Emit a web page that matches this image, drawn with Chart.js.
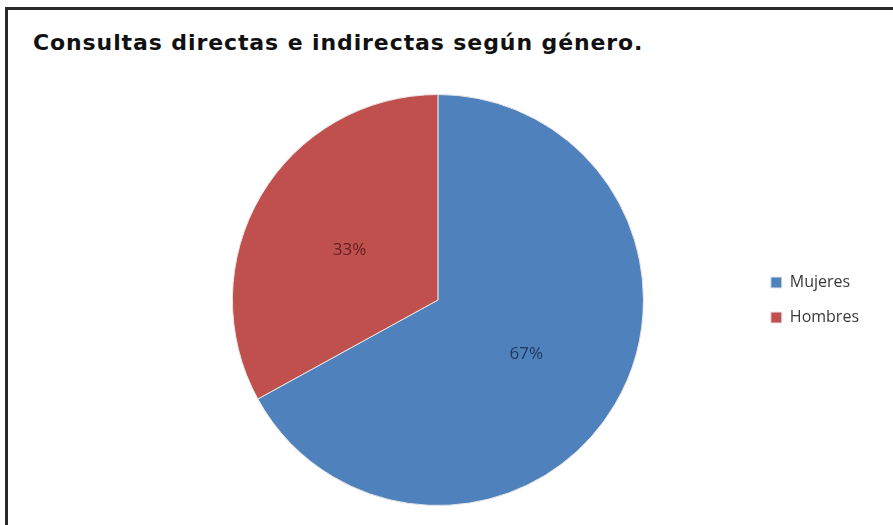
<!DOCTYPE html>
<html lang="es">
<head>
<meta charset="utf-8">
<title>Consultas según género</title>
<script src="https://cdn.jsdelivr.net/npm/chart.js@4.4.1/dist/chart.umd.min.js"></script>
<style>
  html, body { margin: 0; padding: 0; background: #fff; }
  #wrap { position: relative; width: 893px; height: 525px; overflow: hidden; }
  #marco {
    position: absolute; left: 5px; top: 7px; width: 900px; height: 530px;
    border-top: 3px solid #2a2a2a; border-left: 3px solid #2a2a2a;
  }
  #titulo {
    position: absolute; left: 33px; top: 30px;
    font: bold 22px "DejaVu Sans", sans-serif; letter-spacing: 0.9px;
    color: #111; white-space: nowrap;
  }
  canvas { position: absolute; left: 0; top: 0; }
</style>
</head>
<body>
<div id="wrap">
  <div id="marco"></div>
  <div id="titulo">Consultas directas e indirectas según género.</div>
  <canvas id="grafico" width="893" height="525"></canvas>
</div>
<script>
const generos = ["Mujeres", "Hombres"];
const porcentajes = [67, 33];

const colorSector = ["#4f81bd", "#c0504d"];
const colorEtiqueta = ["#1f3a60", "#5e1f1d"];

// porcentaje escrito en el centro de cada sector
const etiquetasSector = {
  id: "etiquetasSector",
  afterDatasetsDraw(chart) {
    const { ctx } = chart;
    const meta = chart.getDatasetMeta(0);
    ctx.save();
    ctx.font = "17px 'Open Sans', sans-serif";
    ctx.textAlign = "center";
    ctx.textBaseline = "middle";
    meta.data.forEach((arc, i) => {
      const pos = arc.tooltipPosition();
      ctx.fillStyle = colorEtiqueta[i];
      ctx.fillText(porcentajes[i] + "%", pos.x, pos.y + 2);
    });
    ctx.restore();
  }
};

new Chart(document.getElementById("grafico"), {
  type: "pie",
  data: {
    labels: generos,
    datasets: [{
      data: porcentajes,
      backgroundColor: colorSector,
      borderColor: "#e6e6e6",
      borderWidth: 1
    }]
  },
  options: {
    responsive: false,
    animation: false,
    layout: { padding: { top: 94, bottom: 19, left: 124, right: 24 } },
    plugins: {
      title: { display: false },
      tooltip: { enabled: false },
      legend: {
        position: "right",
        labels: {
          boxWidth: 11,
          boxHeight: 11,
          padding: 19,
          color: "#3a3a3a",
          font: { family: "'Open Sans', sans-serif", size: 16 }
        }
      }
    }
  },
  plugins: [etiquetasSector]
});
</script>
</body>
</html>
